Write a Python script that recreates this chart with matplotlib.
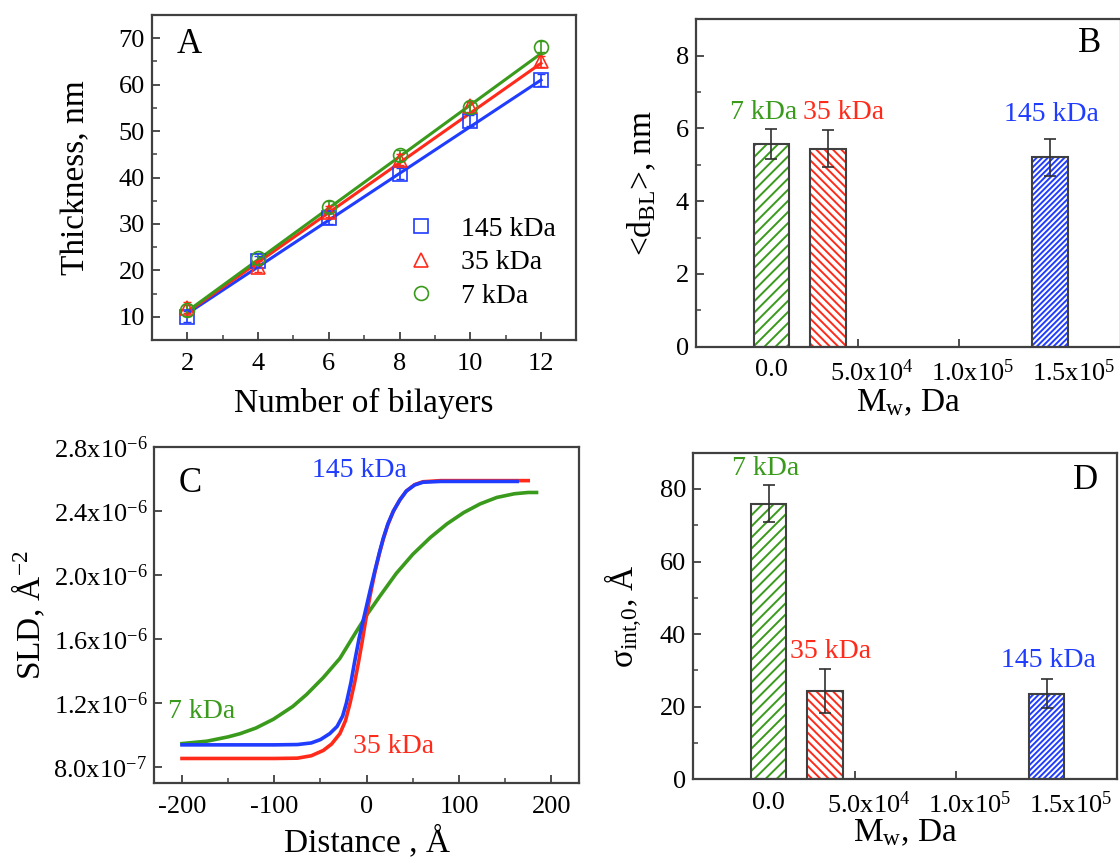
import numpy as np
import matplotlib
matplotlib.use("Agg")
import matplotlib.pyplot as plt
from matplotlib import rcParams
from matplotlib.ticker import MultipleLocator, FixedLocator, FuncFormatter
import matplotlib.transforms as mtrans

rcParams.update({
    "font.family": ["Liberation Serif", "DejaVu Serif"],
    "mathtext.fontset": "custom",
    "mathtext.rm": "Liberation Serif",
    "mathtext.it": "Liberation Serif:italic",
    "mathtext.bf": "Liberation Serif:bold",
    "axes.unicode_minus": False,
    "font.size": 19,
    "axes.linewidth": 1.6,
    "axes.edgecolor": "#404040",
    "xtick.direction": "in",
    "ytick.direction": "in",
    "xtick.major.size": 6,
    "ytick.major.size": 6,
    "xtick.minor.size": 3.5,
    "ytick.minor.size": 3.5,
    "xtick.major.width": 1.3,
    "ytick.major.width": 1.3,
    "xtick.minor.width": 1.1,
    "ytick.minor.width": 1.1,
    "xtick.color": "#404040",
    "ytick.color": "#404040",
    "xtick.labelcolor": "black",
    "ytick.labelcolor": "black",
    "xtick.labelsize": 19,
    "ytick.labelsize": 19,
    "hatch.linewidth": 1.4,
})

GREEN = "#3a9a1c"
RED = "#ff2a1a"
BLUE = "#1f3cff"

# ---------------------------------------------------------------------------
# Data
# ---------------------------------------------------------------------------
# Panel A: thickness vs number of bilayers
bilayers = [2, 4, 6, 8, 10, 12]
thick_145 = [10.0, 22.0, 31.2, 40.8, 52.2, 61.0]
thick_35 = [12.0, 20.8, 32.6, 43.8, 55.3, 65.0]
thick_7 = [11.4, 22.6, 33.7, 44.8, 55.1, 68.2]
thick_err = [1.2, 1.2, 1.2, 1.2, 1.2, 1.2]
fit_x = [2, 12]
fit_145 = [10.7, 61.0]
fit_35 = [11.0, 64.6]
fit_7 = [11.2, 66.7]

# Panels B and D: bars at the molecular weights
mw = [7000, 35000, 145000]
mw_names = ["7 kDa", "35 kDa", "145 kDa"]
d_bl = [5.57, 5.44, 5.21]
d_bl_err = [0.42, 0.51, 0.51]
sigma_int = [76.0, 24.3, 23.6]
sigma_err = [5.0, 6.0, 4.0]

# Panel C: SLD profiles (units of 1e-6 A^-2)
c_blue_x = [-200, -150, -100, -75, -60, -50, -40, -32, -26, -22, -17, -13, -8, -2,
            4, 9, 14, 18, 23, 29, 36, 43, 52, 61, 80, 120, 163]
c_blue_v = [0.94, 0.94, 0.94, 0.942, 0.952, 0.973, 1.01, 1.055, 1.12, 1.20, 1.33,
            1.46, 1.61, 1.76, 1.91, 2.03, 2.145, 2.23, 2.32, 2.40, 2.47, 2.525,
            2.563, 2.58, 2.585, 2.585, 2.585]
c_red_x = [-200, -150, -100, -75, -60, -47, -38, -29, -23, -18, -13, -9, -5, -1,
           4, 9, 14, 18, 23, 29, 36, 43, 52, 61, 80, 120, 175]
c_red_v = [0.855, 0.855, 0.855, 0.857, 0.872, 0.905, 0.945, 1.01, 1.09, 1.20, 1.33,
           1.45, 1.58, 1.72, 1.88, 2.02, 2.14, 2.225, 2.315, 2.40, 2.47, 2.525,
           2.565, 2.583, 2.59, 2.59, 2.59]
c_green_x = [-200, -173, -150, -137, -120, -101, -80, -65, -47, -29, -12, 0, 14,
             32, 50, 69, 87, 105, 123, 141, 160, 175, 184]
c_green_v = [0.948, 0.963, 0.99, 1.01, 1.045, 1.10, 1.18, 1.255, 1.36, 1.48, 1.64,
             1.75, 1.866, 2.01, 2.13, 2.235, 2.32, 2.39, 2.445, 2.485, 2.508,
             2.516, 2.516]

# ---------------------------------------------------------------------------
fig = plt.figure(figsize=(11.2, 8.61), dpi=100)
W, H = 1120, 861


def add_ax(l, r, t, b):
    return fig.add_axes([l / W, 1 - b / H, (r - l) / W, (b - t) / H])


axA = add_ax(152, 576.4, 15, 340)
axB = add_ax(695.7, 1120.6, 19.3, 346.7)
axC = add_ax(154.3, 579, 447, 783.3)
axD = add_ax(692.9, 1117.3, 452.7, 779.3)

for ax in (axA, axB, axC, axD):
    ax.tick_params(which="both", top=False, right=False)
    ax.tick_params(axis="x", pad=9)
    ax.tick_params(axis="y", pad=5)


def place_labels(ax, xy, yx):
    ax.xaxis.set_label_coords(0.5, xy)
    ax.xaxis.label.set_verticalalignment("center")
    ax.yaxis.set_label_coords(yx, 0.5)
    ax.yaxis.label.set_verticalalignment("center")


# --- Panel A ---------------------------------------------------------------
for vals, fit, col, mk, lab in [(thick_145, fit_145, BLUE, "s", "145 kDa"),
                                (thick_35, fit_35, RED, "^", "35 kDa"),
                                (thick_7, fit_7, GREEN, "o", "7 kDa")]:
    axA.plot(fit_x, fit, color=col, lw=2.2, zorder=2)
    axA.errorbar(bilayers, vals, yerr=thick_err, fmt="none", ecolor=col,
                 elinewidth=1.2, capsize=3, zorder=3)
    axA.plot(bilayers, vals, ls="none", marker=mk, ms=10, mfc="none",
             mec=col, mew=1.2, label=lab, zorder=4)
axA.set_xlim(1, 13)
axA.set_ylim(5, 75)
axA.xaxis.set_major_locator(MultipleLocator(2))
axA.xaxis.set_minor_locator(MultipleLocator(1))
axA.yaxis.set_major_locator(MultipleLocator(10))
axA.yaxis.set_minor_locator(MultipleLocator(5))
axA.set_xticks([2, 4, 6, 8, 10, 12])
axA.set_xlabel("Number of bilayers", fontsize=24)
axA.set_ylabel("Thickness, nm", fontsize=24)
place_labels(axA, -0.194, -0.18)
axA.text(0.088, 0.908, "A", transform=axA.transAxes, fontsize=25,
         ha="center", va="center")
axA.legend(loc="upper left", bbox_to_anchor=(0.542, 0.458), frameon=False,
           fontsize=20, handlelength=1.0, handletextpad=0.93,
           labelspacing=0.3, borderaxespad=0.5)


# --- Panels B and D ---------------------------------------------------------
def mw_fmt(v, pos):
    if abs(v) < 1:
        return "0.0"
    e = int(np.floor(np.log10(abs(v))))
    return f"{v / 10**e:.1f}x10$^{{{e}}}$"


hatches = ["///", "\\\\\\\\", "//////"]
cols = [GREEN, RED, BLUE]


def bar_panel(ax, vals, errs, ylim, ymajor, yminor, lab_pos, letter_pos, letter):
    for x, v, c, h in zip(mw, vals, cols, hatches):
        ax.bar(x, v, width=17500, color="white", edgecolor=c, hatch=h,
               linewidth=0, zorder=2)
        ax.bar(x, v, width=17500, color="none", edgecolor="#404040",
               linewidth=1.5, zorder=3)
    ax.errorbar(mw, vals, yerr=errs, fmt="none", ecolor="#303030",
                elinewidth=1.2, capsize=4, capthick=1.2, zorder=4)
    for (lx, ly), name, c in zip(lab_pos, mw_names, cols):
        ax.text(lx, ly, name, color=c, fontsize=20, ha="center", va="center")
    ax.set_xlim(-3.05e4, 1.8e5)
    ax.set_ylim(*ylim)
    ax.xaxis.set_major_locator(FixedLocator([0, 5e4, 1e5, 1.5e5]))
    ax.xaxis.set_major_formatter(FuncFormatter(mw_fmt))
    ax.yaxis.set_major_locator(MultipleLocator(ymajor))
    ax.yaxis.set_minor_locator(MultipleLocator(yminor))
    shift = mtrans.ScaledTranslation(0.14, 0, fig.dpi_scale_trans)
    for t in ax.get_xticklabels():
        t.set_transform(t.get_transform() + shift)
    ax.set_xlabel("M$_{\\mathrm{w}}$, Da", fontsize=24)
    ax.text(letter_pos[0], letter_pos[1], letter, transform=ax.transAxes,
            fontsize=25, ha="center", va="center")


bar_panel(axB, d_bl, d_bl_err, (0, 9), 2, 1,
          [(3300, 6.45), (43000, 6.45), (145500, 6.37)], (0.928, 0.927), "B")
axB.set_ylabel("<d$_{\\mathrm{BL}}$>, nm", fontsize=24)
place_labels(axB, -0.172, -0.126)

bar_panel(axD, sigma_int, sigma_err, (0, 90), 20, 10,
          [(5500, 85.6), (37700, 35.1), (145700, 32.8)], (0.924, 0.916), "D")
axD.set_ylabel("σ$_{\\mathrm{int{,}0}}$, Å", fontsize=24)
place_labels(axD, -0.165, -0.162)

# --- Panel C ---------------------------------------------------------------
scale = 1e-6
axC.plot(c_green_x, np.array(c_green_v) * scale, color=GREEN, lw=2.6, zorder=2)
axC.plot(c_red_x, np.array(c_red_v) * scale, color=RED, lw=2.6, zorder=3)
axC.plot(c_blue_x, np.array(c_blue_v) * scale, color=BLUE, lw=2.6, zorder=4)
axC.set_xlim(-230, 230)
axC.set_ylim(0.7e-6, 2.8e-6)
axC.xaxis.set_major_locator(MultipleLocator(100))
axC.xaxis.set_minor_locator(MultipleLocator(50))
axC.yaxis.set_major_locator(FixedLocator([0.8e-6, 1.2e-6, 1.6e-6, 2.0e-6, 2.4e-6, 2.8e-6]))


def sld_fmt(v, pos):
    e = int(np.floor(np.log10(v) + 1e-9))
    return f"{v / 10**e:.1f}x10$^{{{e}}}$"


axC.yaxis.set_major_formatter(FuncFormatter(sld_fmt))
axC.text(-8, 2.655e-6, "145 kDa", color=BLUE, fontsize=20, ha="center", va="center")
axC.text(-179, 1.149e-6, "7 kDa", color=GREEN, fontsize=20, ha="center", va="center")
axC.text(29.4, 0.931e-6, "35 kDa", color=RED, fontsize=20, ha="center", va="center")
axC.text(0.084, 0.892, "C", transform=axC.transAxes, fontsize=25,
         ha="center", va="center")
axC.set_xlabel("Distance , Å", fontsize=24)
axC.set_ylabel("SLD, Å$^{-2}$", fontsize=24)
place_labels(axC, -0.174, -0.296)

fig.savefig("out.png", dpi=100)
